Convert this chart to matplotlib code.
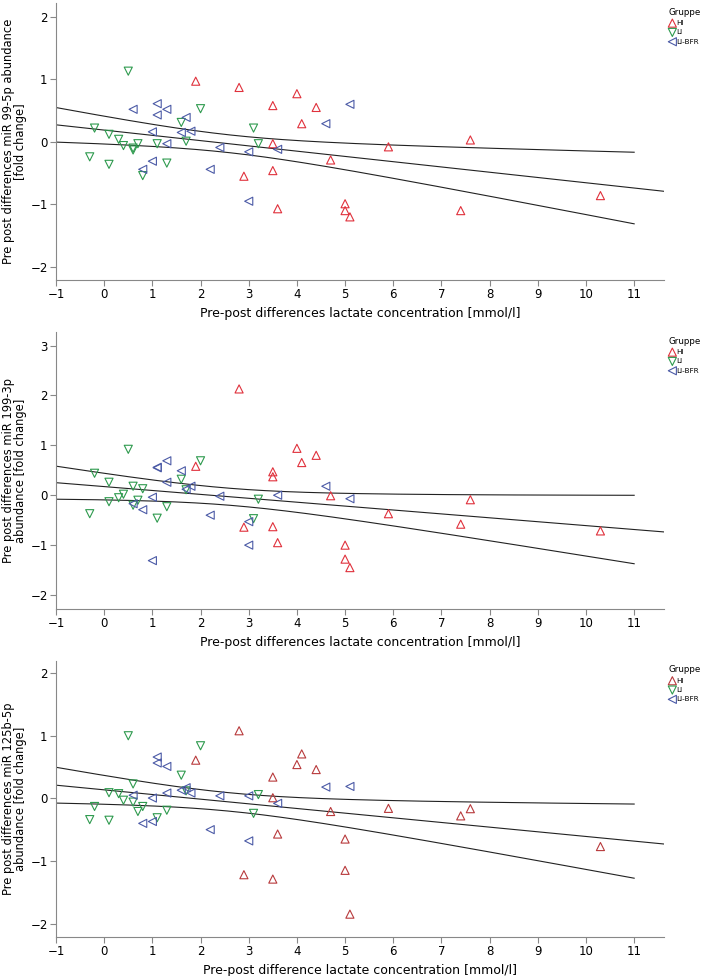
import numpy as np
import matplotlib
matplotlib.use("Agg")
import matplotlib.pyplot as plt

plt.rcParams['font.family'] = ['DejaVu Sans']

# lactate pre-post differences per group (same subjects in all panels)
hi_x = [1.9, 2.8, 2.9, 3.5, 3.5, 3.5, 3.6, 4.0, 4.1, 4.4, 4.7, 5.0, 5.0, 5.1, 5.9, 7.4, 7.6, 10.3]
li_x = [-0.3, -0.2, 0.1, 0.1, 0.3, 0.4, 0.5, 0.6, 0.6, 0.7, 0.8, 1.1, 1.3, 1.6, 1.7, 2.0, 3.1, 3.2]
bfr_x = [0.6, 0.8, 1.0, 1.0, 1.1, 1.1, 1.3, 1.3, 1.6, 1.7, 1.8, 2.2, 2.4, 3.0, 3.0, 3.6, 4.6, 5.1]

# miR 99-5p
hi_99 = [0.97, 0.87, -0.55, 0.58, -0.03, -0.46, -1.07, 0.77, 0.29, 0.55, -0.29, -0.99, -1.10, -1.20, -0.08, -1.10, 0.03, -0.86]
li_99 = [-0.24, 0.22, 0.12, -0.36, 0.04, -0.06, 1.13, -0.10, -0.13, -0.03, -0.54, -0.03, -0.34, 0.31, 0.01, 0.53, 0.22, -0.03]
bfr_99 = [0.52, -0.44, 0.16, -0.31, 0.61, 0.43, 0.52, -0.03, 0.15, 0.39, 0.17, -0.44, -0.09, -0.16, -0.95, -0.12, 0.29, 0.60]

# miR 199-3p
hi_199 = [0.58, 2.13, -0.64, 0.47, 0.37, -0.63, -0.95, 0.94, 0.655, 0.80, -0.01, -1.00, -1.28, -1.45, -0.37, -0.58, -0.09, -0.715]
li_199 = [-0.37, 0.44, 0.26, -0.13, -0.05, 0.02, 0.92, 0.18, -0.20, -0.10, 0.13, -0.46, -0.23, 0.32, 0.11, 0.69, -0.47, -0.08]
bfr_199 = [-0.17, -0.29, -0.04, -1.31, 0.55, 0.56, 0.69, 0.26, 0.49, 0.12, 0.18, -0.40, -0.02, -0.53, -1.00, 0.00, 0.18, -0.07]

# miR 125b-5p
hi_125 = [0.61, 1.08, -1.22, 0.34, 0.01, -1.29, -0.57, 0.54, 0.71, 0.46, -0.21, -0.65, -1.15, -1.85, -0.16, -0.28, -0.165, -0.77]
li_125 = [-0.34, -0.13, 0.09, -0.35, 0.075, -0.03, 1.00, 0.23, -0.06, -0.21, -0.13, -0.31, -0.19, 0.37, 0.12, 0.84, -0.24, 0.06]
bfr_125 = [0.05, -0.40, 0.005, -0.37, 0.66, 0.565, 0.51, 0.085, 0.13, 0.17, 0.085, -0.50, 0.04, 0.04, -0.68, -0.08, 0.18, 0.19]

panels = [
    (hi_99, li_99, bfr_99, 'Pre post differences miR 99-5p abundance\n[fold change]',
     'Pre-post differences lactate concentration [mmol/l]', (-2.21, 2.22), [-2, -1, 0, 1, 2], '#e0313c'),
    (hi_199, li_199, bfr_199, 'Pre post differences miR 199-3p\nabundance [fold change]',
     'Pre-post differences lactate concentration [mmol/l]', (-2.28, 3.27), [-2, -1, 0, 1, 2, 3], '#e0313c'),
    (hi_125, li_125, bfr_125, 'Pre post differences miR 125b-5p\nabundance [fold change]',
     'Pre-post difference lactate concentration [mmol/l]', (-2.21, 2.2), [-2, -1, 0, 1, 2], '#b83a3c'),
]

green = '#2e9a4e'
blue = '#4b5aa6'
T95 = 2.007  # t(0.975, df=52)

fig = plt.figure(figsize=(7.08, 9.76), dpi=100)
bottoms = [0.7131, 0.376, 0.0403]
heights = [0.2838, 0.2838, 0.2828]

for (hi_y, li_y, bfr_y, ylab, xlab, ylim, yticks, red), b, h in zip(panels, bottoms, heights):
    ax = fig.add_axes([0.0791, b, 0.8588, h])

    ax.scatter(hi_x, hi_y, marker='^', s=34, facecolors='none', edgecolors=red, linewidths=0.8, label='HI', zorder=3)
    ax.scatter(li_x, li_y, marker='v', s=34, facecolors='none', edgecolors=green, linewidths=0.8, label='LI', zorder=3)
    ax.scatter(bfr_x, bfr_y, marker='<', s=34, facecolors='none', edgecolors=blue, linewidths=0.8, label='LI-BFR', zorder=3)

    # total fit line with 95% CI of the mean
    x = np.array(hi_x + li_x + bfr_x)
    y = np.array(hi_y + li_y + bfr_y)
    n = len(x)
    slope, icpt = np.polyfit(x, y, 1)
    resid = y - (icpt + slope * x)
    s = np.sqrt(np.sum(resid ** 2) / (n - 2))
    sxx = np.sum((x - x.mean()) ** 2)

    xf = np.linspace(-1, 11.62, 200)
    ax.plot(xf, icpt + slope * xf, color='#222222', lw=0.8, zorder=2)
    xc = np.linspace(-1, 11, 200)
    se = s * np.sqrt(1 / n + (xc - x.mean()) ** 2 / sxx)
    ax.plot(xc, icpt + slope * xc + T95 * se, color='#222222', lw=0.8, zorder=2)
    ax.plot(xc, icpt + slope * xc - T95 * se, color='#222222', lw=0.8, zorder=2)

    ax.set_xlim(-1, 11.62)
    ax.set_ylim(*ylim)
    ax.set_xticks(range(-1, 12))
    ax.set_xticklabels([str(v).replace('-', '\u2212') for v in range(-1, 12)])
    ax.set_yticks(yticks)
    ax.set_yticklabels([str(v).replace('-', '\u2212') for v in yticks])
    ax.tick_params(labelsize=8.5, length=4, width=0.8, color='#888888', pad=2)

    for side in ['top', 'right']:
        ax.spines[side].set_visible(False)
    for side in ['left', 'bottom']:
        ax.spines[side].set_color('#888888')
        ax.spines[side].set_linewidth(0.8)

    ax.set_xlabel(xlab, fontsize=9, labelpad=4)
    ax.set_ylabel(ylab, fontsize=8.3, linespacing=0.9, va='center')
    ax.yaxis.set_label_coords(-0.068, 0.5)

    leg = ax.legend(loc='upper left', bbox_to_anchor=(1.0, 1.0), frameon=False,
                    title='Gruppe', fontsize=5.2, title_fontsize=6.3,
                    handletextpad=0.1, handlelength=1.0, labelspacing=0.45,
                    borderaxespad=0.25, alignment='left', markerscale=1.0)

fig.savefig('out.png', dpi=100)
